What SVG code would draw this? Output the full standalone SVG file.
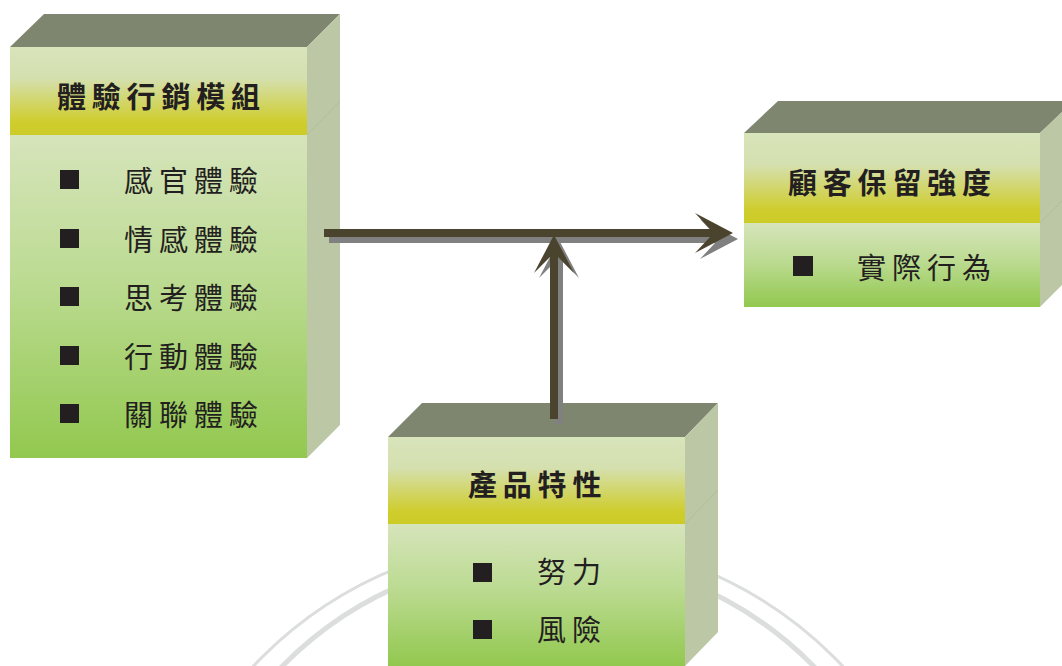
<svg xmlns="http://www.w3.org/2000/svg" width="1062" height="666" viewBox="0 0 1062 666">
<defs>
<linearGradient id="hdr" x1="0" y1="0" x2="0" y2="1">
<stop offset="0" stop-color="#d8e4ba"/>
<stop offset="0.35" stop-color="#d5e0b0"/>
<stop offset="0.85" stop-color="#cfcd2e"/>
<stop offset="1" stop-color="#cccb26"/>
</linearGradient>
<linearGradient id="body" x1="0" y1="0" x2="0" y2="1">
<stop offset="0" stop-color="#d6e4bb"/>
<stop offset="0.45" stop-color="#bcdb92"/>
<stop offset="1" stop-color="#92c84f"/>
</linearGradient>
<style>
.top{fill:#7f8670;}
.side{fill:#bcc7a5;}
.seam{stroke:#b2bd9b;stroke-width:1;fill:none;}
.hd{fill:url(#hdr);}
.bd{fill:url(#body);}
.ht{font-family:"Noto Sans CJK TC","Noto Sans CJK SC",sans-serif;font-size:29px;font-weight:700;fill:#231f20;letter-spacing:5.8px;}
.it{font-family:"Noto Sans CJK TC","Noto Sans CJK SC",sans-serif;font-size:29px;font-weight:400;fill:#231f20;letter-spacing:6px;}
.sq{fill:#231f20;}
.arc{fill:none;stroke:#dcdedd;}
.arr{fill:#4a432d;}
.sh{fill:#808080;}
</style>
</defs>
<rect x="0" y="0" width="1062" height="666" fill="#ffffff"/>
<g id="watermark">
<circle class="arc" cx="548" cy="944" r="405" stroke-width="3"/>
<circle class="arc" cx="548" cy="928" r="373" stroke-width="5"/>
</g>
<g id="node-experiential-marketing">
<polygon class="top" points="10,47 44,14 340,14 307,47"/>
<polygon class="side" points="307,47 340,14 340,425 307,458"/>
<line class="seam" x1="307" y1="135" x2="340" y2="101"/>
<rect class="hd" x="10" y="47" width="297" height="88"/>
<rect class="bd" x="10" y="135" width="297" height="323"/>
<text class="ht" x="57" y="108">體驗行銷模組</text>
<rect class="sq" x="60" y="170" width="19" height="19"/>
<text class="it" x="124" y="192">感官體驗</text>
<rect class="sq" x="60" y="229" width="19" height="19"/>
<text class="it" x="124" y="251">情感體驗</text>
<rect class="sq" x="60" y="287" width="19" height="19"/>
<text class="it" x="124" y="309">思考體驗</text>
<rect class="sq" x="60" y="346" width="19" height="19"/>
<text class="it" x="124" y="368">行動體驗</text>
<rect class="sq" x="60" y="404" width="19" height="19"/>
<text class="it" x="124" y="426">關聯體驗</text>
</g>
<g id="node-retention">
<polygon class="top" points="744,133 778,101 1074,101 1040,133"/>
<polygon class="side" points="1040,133 1073,101 1073,274 1040,307"/>
<line class="seam" x1="1040" y1="223" x2="1073" y2="190"/>
<rect class="hd" x="744" y="133" width="296" height="90"/>
<rect class="bd" x="744" y="223" width="296" height="84"/>
<text class="ht" x="788" y="194">顧客保留強度</text>
<rect class="sq" x="793" y="256" width="20" height="20"/>
<text class="it" x="857" y="279">實際行為</text>
</g>
<g id="node-product">
<polygon class="top" points="388,437 422,403 718,403 685,437"/>
<polygon class="side" points="685,437 718,403 718,632 685,666"/>
<line class="seam" x1="685" y1="524" x2="718" y2="490"/>
<rect class="hd" x="388" y="437" width="297" height="87"/>
<rect class="bd" x="388" y="524" width="297" height="142"/>
<text class="ht" x="468" y="496">產品特性</text>
<rect class="sq" x="473" y="563" width="19" height="19"/>
<text class="it" x="537" y="583">努力</text>
<rect class="sq" x="473" y="620" width="19" height="19"/>
<text class="it" x="537" y="641">風險</text>
</g>
<g id="connectors">
<polygon class="sh" transform="translate(5,6)" points="324,229 710,229 695,213 733,233 695,253 710,237 324,237"/>
<polygon class="arr" points="324,229 710,229 695,213 733,233 695,253 710,237 324,237"/>
<polygon class="sh" transform="translate(5,5)" points="550,419 550,257 534,273 554,235 574,273 558,257 558,419"/>
<polygon class="arr" points="550,419 550,257 534,273 554,235 574,273 558,257 558,419"/>
</g>
</svg>
